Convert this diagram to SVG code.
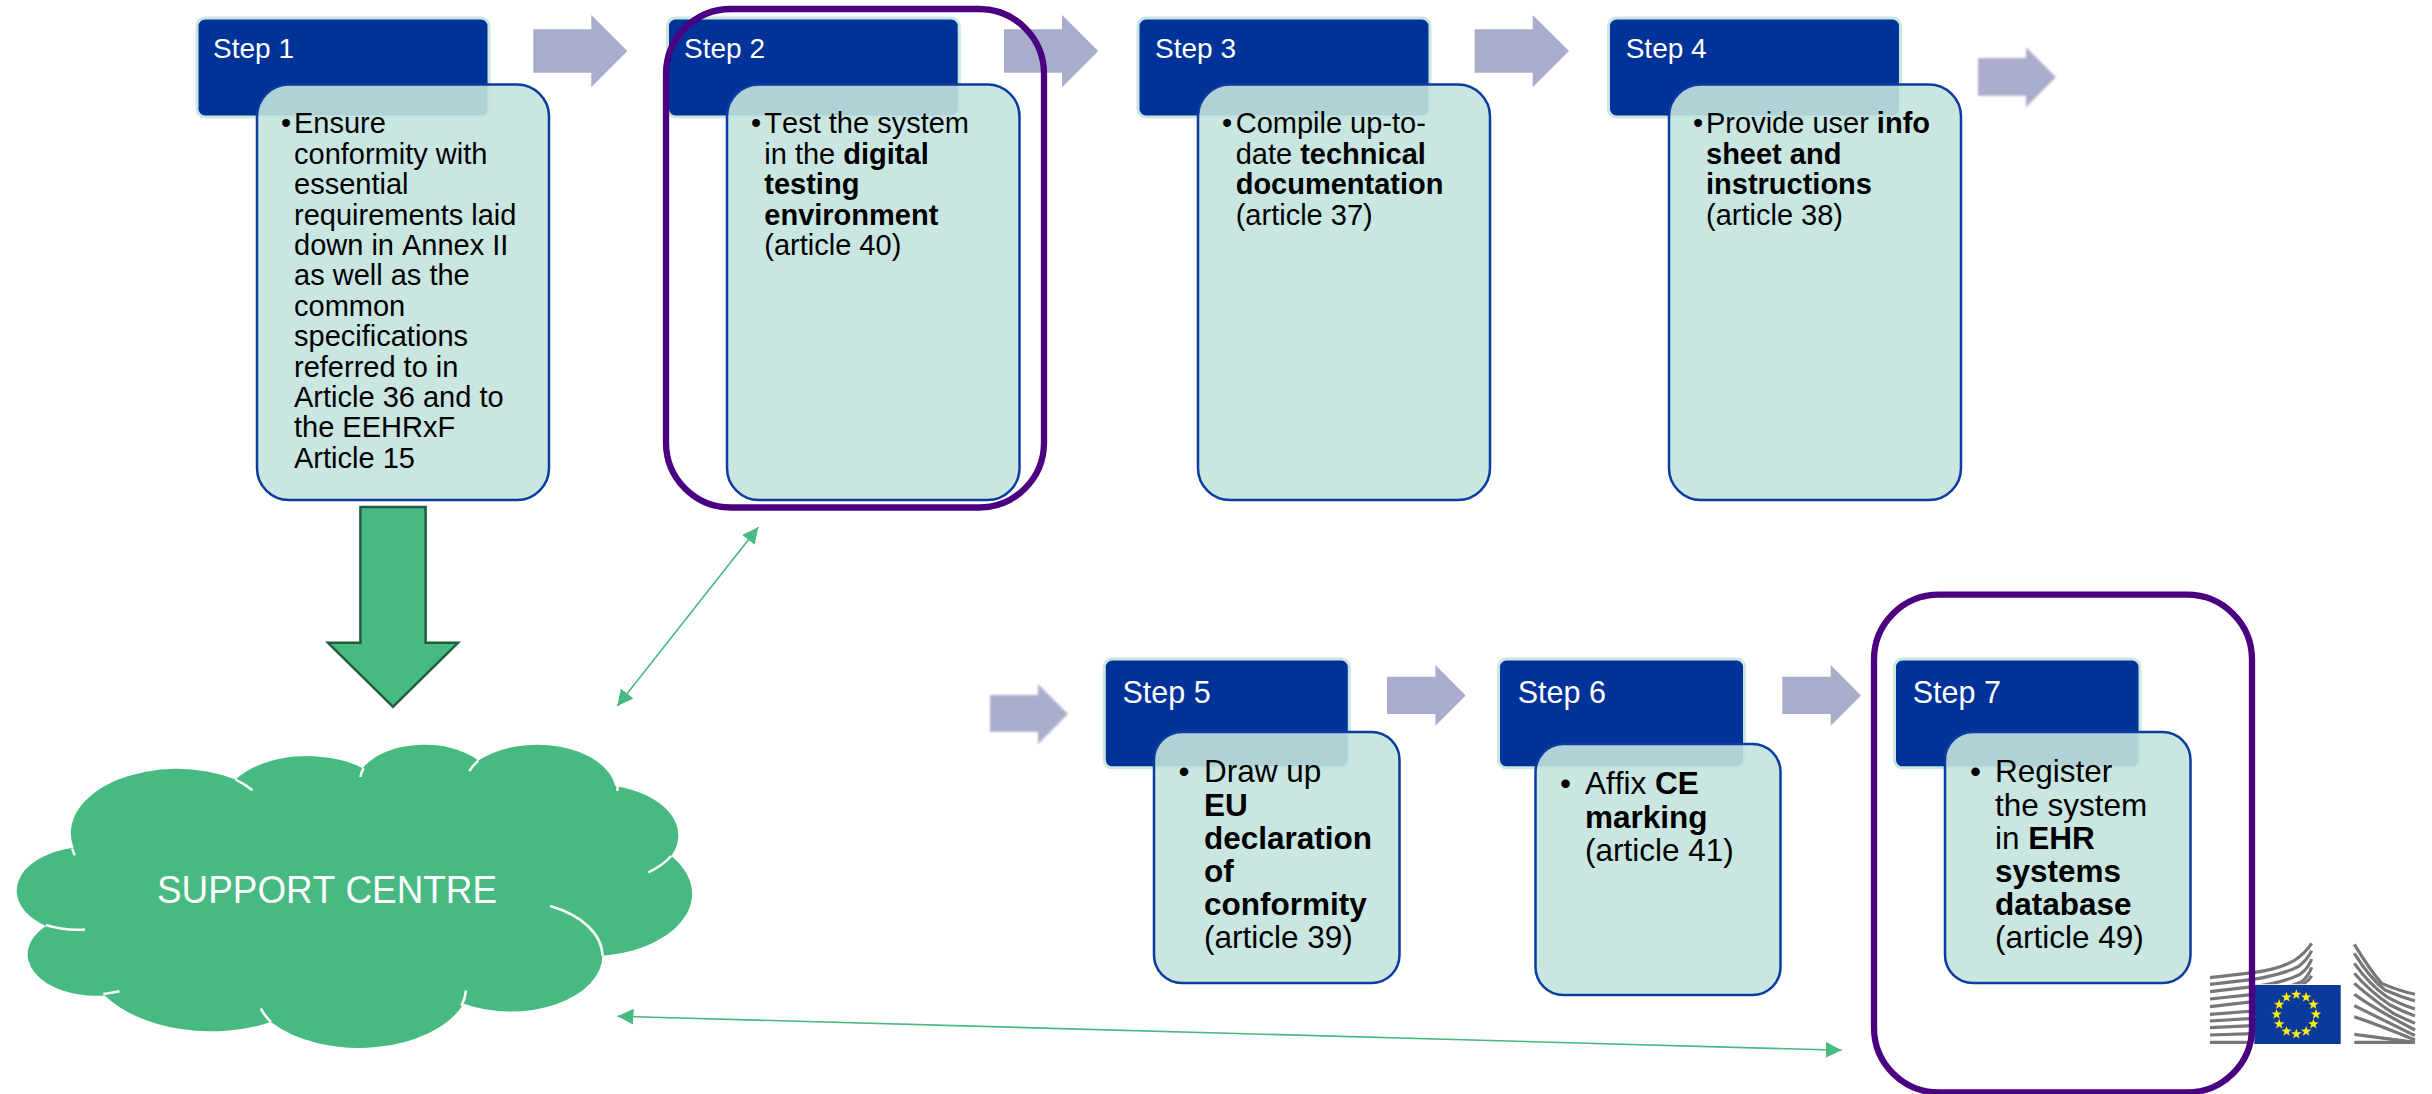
<svg xmlns="http://www.w3.org/2000/svg" width="2432" height="1094" viewBox="0 0 2432 1094">
<style>
text{font-family:"Liberation Sans",Arial,sans-serif;font-kerning:none}
.bg{fill:#fff}
.hd{fill:#003399;stroke:#c9e6e1;stroke-width:3}
.bd{fill:#c3e3de;fill-opacity:.9;stroke:#0a3d9f;stroke-width:2.5}
.st{fill:#fff;font-size:28px}
.st2{fill:#fff;font-size:30.5px}
.tx{fill:#000;font-size:29px}
.tx2{fill:#000;font-size:31.5px}
.s{font-weight:bold}
.blk{fill:#a9adcb}
.frame{fill:none;stroke:#4b0082;stroke-width:6.3}
.link{stroke:#46ba80;stroke-width:1.6;fill:none;marker-start:url(#head);marker-end:url(#head)}
.seam{fill:none;stroke:#fff;stroke-width:2.5}
.bar{fill:none;stroke:#777;stroke-width:9.5}
</style>
<defs>
<marker id="head" markerUnits="userSpaceOnUse" markerWidth="17" markerHeight="17" refX="16" refY="8" orient="auto-start-reverse"><path d="M0 0L16 8L0 16Z" fill="#46ba80"/></marker>
<filter id="soft" x="-10%" y="-10%" width="120%" height="120%"><feGaussianBlur stdDeviation="0.9"/></filter>
<polygon id="star" points="0,-5.4 1.3,-1.8 5.2,-1.7 2.1,.7 3.2,4.4 0,2.2 -3.2,4.4 -2.1,.7 -5.2,-1.7 -1.3,-1.8" fill="#ffef00"/>
<clipPath id="flagcut"><path d="M0 0H700V148H163V345H0Z"/></clipPath>
</defs>
<rect class="bg" width="2432" height="1094"/>

<g id="logo">
<g transform="translate(2200 935) scale(.33333)">
<g clip-path="url(#flagcut)">
<path class="bar" d="M30 128L160 113Q245 100 285 75Q315 55 335 25"/>
<path class="bar" d="M30 148L160 133Q250 118 295 95Q322 75 335 47"/>
<path class="bar" d="M30 170L160 155Q250 143 300 118Q325 100 335 72"/>
<path class="bar" d="M30 192L160 178Q260 160 305 140Q325 125 335 97"/>
<path class="bar" d="M30 215L160 200M275 160Q320 150 335 122"/>
<path class="bar" d="M30 238L160 228M30 258L160 250M30 278L160 272M30 300L160 296M30 322H160"/>
</g>
<path class="bar" d="M463 28Q510 105 545 145Q590 165 645 178"/>
<path class="bar" d="M463 55Q510 130 555 165Q600 185 645 198"/>
<path class="bar" d="M463 85Q510 150 560 185Q600 208 645 222"/>
<path class="bar" d="M463 115Q510 170 570 210Q610 230 645 243"/>
<path class="bar" d="M463 145Q520 195 580 235Q615 252 645 265"/>
<path class="bar" d="M463 178Q520 220 645 285"/>
<path class="bar" d="M463 212Q540 250 645 302"/>
<path class="bar" d="M463 245Q550 275 645 315"/>
<path class="bar" d="M463 298L645 322"/>
<path class="bar" d="M463 322H645"/>
</g>
<rect x="2254.3" y="985" width="86.4" height="59" fill="#0c3a9b"/>
<use href="#star" x="2296.3" y="994.6"/>
<use href="#star" x="2306.1" y="997.2"/>
<use href="#star" x="2313.4" y="1004.5"/>
<use href="#star" x="2316" y="1014.3"/>
<use href="#star" x="2313.4" y="1024.1"/>
<use href="#star" x="2306.1" y="1031.4"/>
<use href="#star" x="2296.3" y="1034"/>
<use href="#star" x="2286.5" y="1031.4"/>
<use href="#star" x="2279.2" y="1024.1"/>
<use href="#star" x="2276.6" y="1014.3"/>
<use href="#star" x="2279.2" y="1004.5"/>
<use href="#star" x="2286.5" y="997.2"/>
</g>

<g id="step1">
<rect class="hd" x="197" y="18" width="292" height="99" rx="8"/>
<text class="st" x="213" y="58">Step 1</text>
<rect class="bd" x="257" y="84.5" width="292" height="415.5" rx="32"/>
<text class="tx" x="281" y="133.3">•</text>
<text class="tx"><tspan x="294" y="133.3">Ensure</tspan><tspan x="294" y="163.7">conformity with</tspan><tspan x="294" y="194.1">essential</tspan><tspan x="294" y="224.5">requirements laid</tspan><tspan x="294" y="254.9">down in Annex II</tspan><tspan x="294" y="285.3">as well as the</tspan><tspan x="294" y="315.7">common</tspan><tspan x="294" y="346.1">specifications</tspan><tspan x="294" y="376.5">referred to in</tspan><tspan x="294" y="406.9">Article 36 and to</tspan><tspan x="294" y="437.3">the EEHRxF</tspan><tspan x="294" y="467.7">Article 15</tspan></text>
</g>

<g id="step2">
<rect class="hd" x="667.5" y="18" width="291.7" height="99" rx="8"/>
<text class="st" x="684" y="58">Step 2</text>
<rect class="bd" x="727" y="84.5" width="292.5" height="415.5" rx="32"/>
<text class="tx" x="751" y="133.3">•</text>
<text class="tx"><tspan x="764.3" y="133.3">Test the system</tspan><tspan x="764.3" y="163.7">in the </tspan><tspan class="s">digital</tspan><tspan class="s" x="764.3" y="194.1">testing</tspan><tspan class="s" x="764.3" y="224.5">environment</tspan><tspan x="764.3" y="254.9">(article 40)</tspan></text>
</g>

<g id="step3">
<rect class="hd" x="1138" y="18" width="292" height="99" rx="8"/>
<text class="st" x="1155" y="58">Step 3</text>
<rect class="bd" x="1198" y="84.5" width="292" height="415.5" rx="32"/>
<text class="tx" x="1222" y="133.3">•</text>
<text class="tx"><tspan x="1235.7" y="133.3">Compile up-to-</tspan><tspan x="1235.7" y="163.7">date </tspan><tspan class="s">technical</tspan><tspan class="s" x="1235.7" y="194.1">documentation</tspan><tspan x="1235.7" y="224.5">(article 37)</tspan></text>
</g>

<g id="step4">
<rect class="hd" x="1608.5" y="18" width="292" height="99" rx="8"/>
<text class="st" x="1625.7" y="58">Step 4</text>
<rect class="bd" x="1669" y="84.5" width="292" height="415.5" rx="32"/>
<text class="tx" x="1693" y="133.3">•</text>
<text class="tx"><tspan x="1706" y="133.3">Provide user </tspan><tspan class="s">info</tspan><tspan class="s" x="1706" y="163.7">sheet and</tspan><tspan class="s" x="1706" y="194.1">instructions</tspan><tspan x="1706" y="224.5">(article 38)</tspan></text>
</g>

<g id="step5">
<rect class="hd" x="1104.3" y="659" width="245" height="108.8" rx="8"/>
<text class="st2" x="1122.5" y="703.3">Step 5</text>
<rect class="bd" x="1154" y="732" width="245.5" height="251" rx="28"/>
<text class="tx2" x="1178.5" y="782.3">•</text>
<text class="tx2"><tspan x="1204" y="782.3">Draw up</tspan><tspan class="s" x="1204" y="815.5">EU</tspan><tspan class="s" x="1204" y="848.7">declaration</tspan><tspan class="s" x="1204" y="881.9">of</tspan><tspan class="s" x="1204" y="915.1">conformity</tspan><tspan x="1204" y="948.3">(article 39)</tspan></text>
</g>

<g id="step6">
<rect class="hd" x="1498.5" y="659" width="246" height="108.8" rx="8"/>
<text class="st2" x="1517.7" y="703.3">Step 6</text>
<rect class="bd" x="1535.5" y="744" width="245" height="251" rx="28"/>
<text class="tx2" x="1560" y="794.3">•</text>
<text class="tx2"><tspan x="1585" y="794.3">Affix </tspan><tspan class="s">CE</tspan><tspan class="s" x="1585" y="827.5">marking</tspan><tspan x="1585" y="860.7">(article 41)</tspan></text>
</g>

<g id="step7">
<rect class="hd" x="1894.5" y="659" width="245.5" height="108.8" rx="8"/>
<text class="st2" x="1912.7" y="703.3">Step 7</text>
<rect class="bd" x="1945" y="732" width="245.5" height="251" rx="28"/>
<text class="tx2" x="1970" y="782.3">•</text>
<text class="tx2"><tspan x="1995" y="782.3">Register</tspan><tspan x="1995" y="815.5">the system</tspan><tspan x="1995" y="848.7">in </tspan><tspan class="s">EHR</tspan><tspan class="s" x="1995" y="881.9">systems</tspan><tspan class="s" x="1995" y="915.1">database</tspan><tspan x="1995" y="948.3">(article 49)</tspan></text>
</g>

<g id="support-centre">
<path d="M73.5 847.7A106.2 64.4 0 0 1 235.5 779.5A86 52 0 0 1 362.7 768.2A68.6 41.7 0 0 1 478.4 760.6A79 48 0 0 1 615.3 786A83.8 51 0 0 1 671.2 856A103 62.5 0 0 1 602.4 955.7A92 55.8 0 0 1 463.7 1003.8A112 68 0 0 1 270.9 1022A126 77 0 0 1 104.7 995.5A68.5 41.5 0 0 1 45.9 926.1A72 44 0 0 1 73.5 847.7Z" fill="#46ba80"/>
<path class="seam" d="M74.8 855.3A106.2 64.4 0 0 1 72.1 848.5"/>
<path class="seam" d="M235.5 779.5A106.2 64.4 0 0 1 252.5 790.2"/>
<path class="seam" d="M363.6 768.2A68.6 41.7 0 0 0 360.4 776.9"/>
<path class="seam" d="M478.4 760.6A76.4 46.2 0 0 0 469.2 771.2"/>
<path class="seam" d="M617.5 786L617.5 790.9"/>
<path class="seam" d="M671.2 856A83.8 51 0 0 1 648.3 872.3"/>
<path class="seam" d="M550 906A90.9 55.1 0 0 1 602.4 955.7"/>
<path class="seam" d="M466 990.5A106.1 64.6 0 0 1 461.4 1005.7"/>
<path class="seam" d="M270.9 1022A106.1 64.6 0 0 1 260.8 1008.7"/>
<path class="seam" d="M119.4 991.3A68.5 41.5 0 0 1 103.3 993.9"/>
<path class="seam" d="M84.9 929.5A68.3 41.7 0 0 1 45.9 925"/>
<text x="157" y="903" fill="#fff" font-size="38" textLength="340" lengthAdjust="spacingAndGlyphs">SUPPORT CENTRE</text>
</g>

<g id="connectors">
<polygon class="blk" points="533.3,29.3 591.3,29.3 591.3,15 627.3,51 591.3,87.3 591.3,72.7 533.3,72.7"/>
<polygon class="blk" points="1004,29.3 1062,29.3 1062,15 1098.3,51 1062,87.3 1062,72.7 1004,72.7"/>
<polygon class="blk" points="1474.7,29.3 1532.7,29.3 1532.7,15 1569,51 1532.7,87.3 1532.7,72.7 1474.7,72.7"/>
<polygon class="blk" filter="url(#soft)" points="1978,58 2026,58 2026,47.3 2056,77 2026,107.3 2026,95.7 1978,95.7"/>
<polygon class="blk" filter="url(#soft)" points="990,695 1038,695 1038,684 1068,714 1038,744 1038,731.7 990,731.7"/>
<polygon class="blk" points="1387,676.7 1435.4,676.7 1435.4,665 1465.7,695.5 1435.4,725.7 1435.4,714 1387,714"/>
<polygon class="blk" points="1782.3,676.7 1830.7,676.7 1830.7,665 1861,695.5 1830.7,725.7 1830.7,714 1782.3,714"/>
<polygon points="360.4,507 425.6,507 425.6,642.8 458,642.8 393,706.8 328,642.8 360.4,642.8" fill="#46ba80" stroke="#1f5c3e" stroke-width="2.5"/>
<line class="link" x1="617.3" y1="706" x2="758.3" y2="527.3"/>
<line class="link" x1="617.5" y1="1016.3" x2="1841.7" y2="1050.3"/>
</g>

<g id="highlights">
<rect class="frame" x="666" y="9" width="378" height="498.5" rx="65"/>
<rect class="frame" x="1874" y="594.7" width="378" height="497.8" rx="65"/>
</g>
</svg>
